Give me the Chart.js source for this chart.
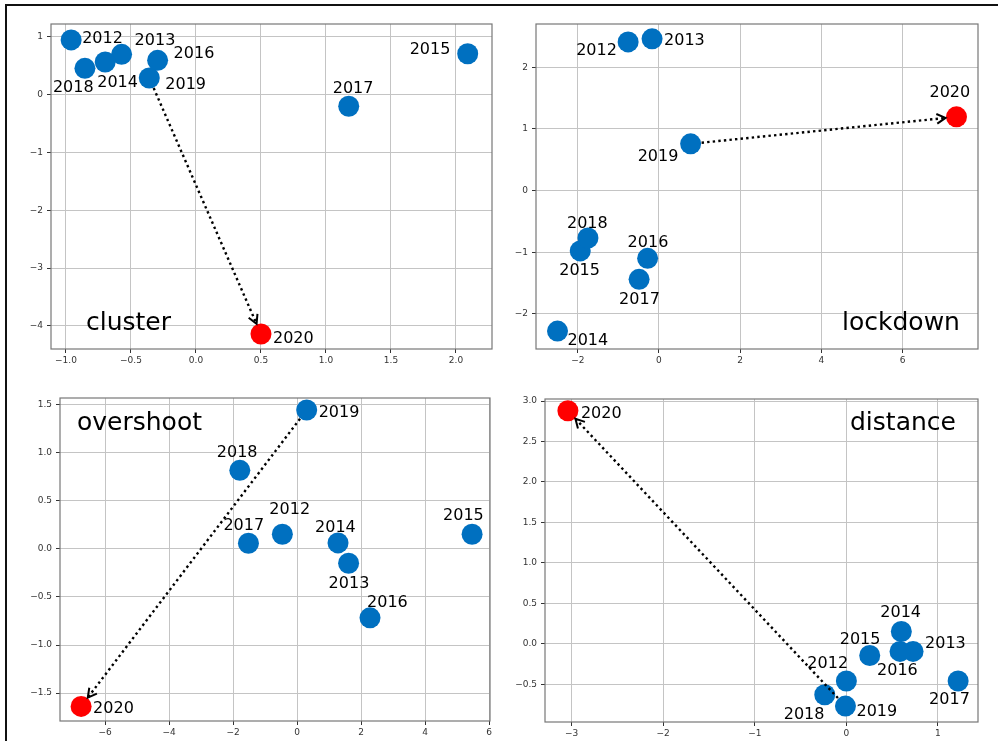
<!DOCTYPE html>
<html lang="en">

<head>
    <meta charset="UTF-8">
    <title>Year clusters</title>
    <script src="https://cdn.jsdelivr.net/npm/chart.js"></script>

    <style>
        body {
            margin: 0;
            padding: 0;
            background-color: #fff;
            width: 998px;
            height: 741px;
            overflow: hidden;
            position: relative;
        }

        #frame {
            position: absolute;
            left: 5px;
            top: 4px;
            right: -10px;
            bottom: -10px;
            border-left: 2px solid #111;
            border-top: 2px solid #111;
        }

        canvas {
            position: absolute;
        }
    </style>
</head>

<body>
    <div id="frame"></div>
    <canvas id="c_cluster"></canvas>
    <canvas id="c_lockdown"></canvas>
    <canvas id="c_overshoot"></canvas>
    <canvas id="c_distance"></canvas>

    <script>
        const years = ['2012', '2013', '2014', '2015', '2016', '2017', '2018', '2019', '2020'];

        const clusterX = [-0.96, -0.572, -0.698, 2.09, -0.295, 1.175, -0.854, -0.359, 0.50];
        const clusterY = [0.95, 0.70, 0.567, 0.71, 0.596, -0.198, 0.457, 0.29, -4.14];

        const lockdownX = [-0.76, -0.17, -2.50, -1.94, -0.28, -0.49, -1.75, 0.78, 7.33];
        const lockdownY = [2.41, 2.46, -2.28, -0.98, -1.10, -1.44, -0.77, 0.757, 1.195];

        const overshootX = [-0.46, 1.61, 1.28, 5.47, 2.28, -1.52, -1.79, 0.30, -6.75];
        const overshootY = [0.152, -0.15, 0.062, 0.152, -0.717, 0.058, 0.817, 1.444, -1.638];

        const distanceX = [0.0, 0.728, 0.60, 0.255, 0.586, 1.22, -0.236, -0.01, -3.04];
        const distanceY = [-0.46, -0.095, 0.152, -0.145, -0.095, -0.46, -0.63, -0.77, 2.88];

        const BLUE = '#0070c0';
        const RED = '#ff0000';
        const FONT = '"DejaVu Sans", sans-serif';

        // plot box on the page, axis limits, and where each year label sits (left/baseline offset from the dot)
        const panels = [
            {
                id: 'c_cluster', word: 'cluster', xs: clusterX, ys: clusterY,
                box: { left: 51, top: 24, right: 492, bottom: 349 },
                xlim: [-1.115, 2.277], ylim: [-4.40, 1.225], xstep: 0.5, ystep: 1, xdec: 1, ydec: 0,
                wordPos: [35, 306],
                offsets: [[11, 3], [13, -9], [-8, 25], [-58, 0], [16, -2], [-16, -13], [-32, 24], [16, 11], [12, 9]]
            },
            {
                id: 'c_lockdown', word: 'lockdown', xs: lockdownX, ys: lockdownY,
                box: { left: 536, top: 24, right: 978, bottom: 349 },
                xlim: [-3.03, 7.86], ylim: [-2.57, 2.70], xstep: 2, ystep: 1, xdec: 0, ydec: 0,
                wordPos: [306, 306],
                offsets: [[-52, 13], [12, 6], [10, 14], [-21, 24], [-20, -11], [-20, 25], [-21, -10], [-53, 17], [-27, -20]]
            },
            {
                id: 'c_overshoot', word: 'overshoot', xs: overshootX, ys: overshootY,
                box: { left: 60, top: 398, right: 490, bottom: 721 },
                xlim: [-7.41, 6.03], ylim: [-1.79, 1.569], xstep: 2, ystep: 0.5, xdec: 0, ydec: 1,
                wordPos: [17, 32],
                offsets: [[-13, -20], [-20, 25], [-23, -11], [-29, -14], [-3, -11], [-25, -13], [-23, -13], [12, 7], [12, 7]]
            },
            {
                id: 'c_distance', word: 'distance', xs: distanceX, ys: distanceY,
                box: { left: 545, top: 399, right: 978, bottom: 722 },
                xlim: [-3.29, 1.437], ylim: [-0.967, 3.025], xstep: 1, ystep: 0.5, xdec: 0, ydec: 1,
                wordPos: [305, 31],
                offsets: [[-39, -13], [12, -3], [-21, -14], [-30, -11], [-23, 24], [-29, 23], [-41, 24], [11, 10], [13, 7]]
            }
        ];

        const PAD_L = 50, PAD_T = 12, PAD_R = 12, PAD_B = 22;

        function fmt(v, dec) {
            return v.toFixed(dec).replace('-', '\u2212').replace(/^\u22120(\.0+)?$/, '0$1');
        }

        // top and right edges of the axes box, plus the year labels, the arrow and the panel word
        const decorPlugin = {
            id: 'decor',
            beforeDatasetsDraw(chart) {
                const { ctx, chartArea: a } = chart;
                ctx.save();
                ctx.strokeStyle = '#777';
                ctx.lineWidth = 1.2;
                ctx.strokeRect(a.left, a.top, a.right - a.left, a.bottom - a.top);
                ctx.restore();
            },
            afterDatasetsDraw(chart) {
                const p = chart.options.plugins.decor.panel;
                const { ctx, chartArea: a } = chart;
                const meta = chart.getDatasetMeta(0);
                const pts = meta.data;

                // dotted arrow 2019 -> 2020
                const s = pts[7], e = pts[8];
                const ang = Math.atan2(e.y - s.y, e.x - s.x);
                const shrink = 11;
                const x0 = s.x + Math.cos(ang) * shrink, y0 = s.y + Math.sin(ang) * shrink;
                const x1 = e.x - Math.cos(ang) * shrink, y1 = e.y - Math.sin(ang) * shrink;
                ctx.save();
                ctx.strokeStyle = '#000';
                ctx.lineWidth = 2.4;
                ctx.setLineDash([2.4, 3.2]);
                ctx.beginPath();
                ctx.moveTo(x0, y0);
                ctx.lineTo(x1, y1);
                ctx.stroke();
                ctx.setLineDash([]);
                ctx.lineWidth = 2;
                const hl = 10, hw = 0.5;
                ctx.beginPath();
                ctx.moveTo(x1 - hl * Math.cos(ang - hw), y1 - hl * Math.sin(ang - hw));
                ctx.lineTo(x1, y1);
                ctx.lineTo(x1 - hl * Math.cos(ang + hw), y1 - hl * Math.sin(ang + hw));
                ctx.stroke();

                // year labels
                ctx.fillStyle = '#000';
                ctx.font = '16px ' + FONT;
                ctx.textAlign = 'left';
                ctx.textBaseline = 'alphabetic';
                pts.forEach((pt, i) => {
                    const [dx, dy] = p.offsets[i];
                    ctx.fillText(years[i], pt.x + dx, pt.y + dy);
                });

                // panel word
                ctx.font = '25px ' + FONT;
                ctx.fillText(p.word, a.left + p.wordPos[0], a.top + p.wordPos[1]);
                ctx.restore();
            }
        };

        panels.forEach(p => {
            const b = p.box;
            const cv = document.getElementById(p.id);
            cv.width = b.right - b.left + PAD_L + PAD_R;
            cv.height = b.bottom - b.top + PAD_T + PAD_B;
            cv.style.left = (b.left - PAD_L) + 'px';
            cv.style.top = (b.top - PAD_T) + 'px';

            const points = p.xs.map((x, i) => ({ x: x, y: p.ys[i] }));
            const colors = years.map(y => y === '2020' ? RED : BLUE);

            const axisCommon = {
                type: 'linear',
                grid: { color: '#c4c4c4', lineWidth: 1, tickLength: 4, tickColor: '#333' },
                border: { display: false },
            };

            new Chart(cv.getContext('2d'), {
                type: 'scatter',
                data: {
                    datasets: [{
                        data: points,
                        pointRadius: 10.5,
                        pointHoverRadius: 10.5,
                        pointBorderWidth: 0,
                        pointBackgroundColor: colors,
                        clip: false
                    }]
                },
                options: {
                    responsive: false,
                    animation: false,
                    events: [],
                    layout: { padding: { left: 0, top: PAD_T, right: PAD_R, bottom: 0 } },
                    scales: {
                        x: {
                            ...axisCommon,
                            min: p.xlim[0], max: p.xlim[1],
                            afterFit: s => { s.height = PAD_B; },
                            ticks: {
                                stepSize: p.xstep, includeBounds: false, maxRotation: 0, autoSkip: false,
                                padding: 2, color: '#333', font: { family: FONT, size: 9 },
                                callback: v => fmt(v, p.xdec)
                            }
                        },
                        y: {
                            ...axisCommon,
                            min: p.ylim[0], max: p.ylim[1],
                            afterFit: s => { s.width = PAD_L; },
                            ticks: {
                                stepSize: p.ystep, includeBounds: false, autoSkip: false,
                                padding: 4, color: '#333', font: { family: FONT, size: 9 },
                                callback: v => fmt(v, p.ydec)
                            }
                        }
                    },
                    plugins: {
                        legend: { display: false },
                        tooltip: { enabled: false },
                        decor: { panel: p }
                    }
                },
                plugins: [decorPlugin]
            });
        });
    </script>
</body>

</html>
